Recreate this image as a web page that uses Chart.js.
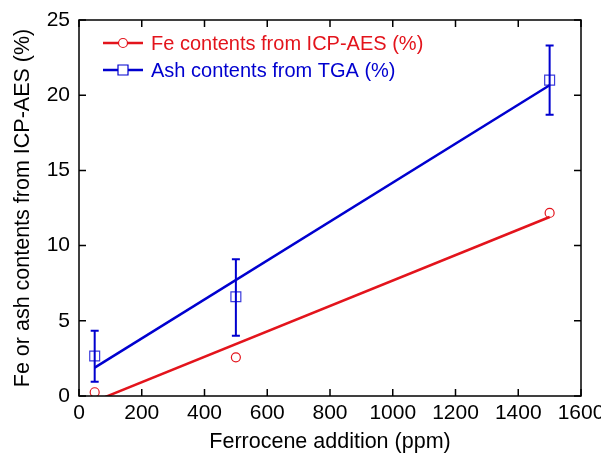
<!DOCTYPE html>
<html>
<head>
<meta charset="utf-8">
<script src="https://cdn.jsdelivr.net/npm/chart.js@4/dist/chart.umd.min.js"></script>
<style>
  html, body { margin: 0; padding: 0; background: #fff; }
  #wrap { width: 601px; height: 455px; }
</style>
</head>
<body>
<div id="wrap"><canvas id="myChart"></canvas></div>
<script>
// values
const doses = [50, 500, 1500];
const feValues = [0.25, 2.57, 12.17];
const ashValues = [2.66, 6.6, 21.0];
const ashLow = [0.95, 4.0, 18.7];
const ashHigh = [4.34, 9.1, 23.3];
// fitted lines, end points
const fitX = [50, 1500];
const feFit = [-0.35, 11.9];
const ashFit = [1.89, 20.66];
// axes
const xTicks = [0, 200, 400, 600, 800, 1000, 1200, 1400, 1600];
const yTicks = [0, 5, 10, 15, 20, 25];

const RED = "#e3141c";
const BLUE = "#0000cf";
const FONT = "'Liberation Sans', Arial, sans-serif";

const toPoints = (xs, ys) => xs.map((x, i) => ({ x: x, y: ys[i] }));

// box round the plot and ticks pointing inward
const frame = {
	id: "frame",
	afterDraw(chart) {
		const { ctx, chartArea: a, scales } = chart;
		const len = 7;
		ctx.save();
		ctx.strokeStyle = "#000";
		ctx.lineWidth = 1.5;
		ctx.strokeRect(a.left, a.top, a.right - a.left, a.bottom - a.top);
		ctx.beginPath();
		xTicks.forEach((v) => {
			const px = scales.x.getPixelForValue(v);
			ctx.moveTo(px, a.bottom);
			ctx.lineTo(px, a.bottom - len);
			ctx.moveTo(px, a.top);
			ctx.lineTo(px, a.top + len);
		});
		yTicks.forEach((v) => {
			const py = scales.y.getPixelForValue(v);
			ctx.moveTo(a.left, py);
			ctx.lineTo(a.left + len, py);
			ctx.moveTo(a.right, py);
			ctx.lineTo(a.right - len, py);
		});
		ctx.stroke();
		ctx.restore();
	},
};

const errorBars = {
	id: "errorBars",
	afterDatasetsDraw(chart) {
		const { ctx, scales } = chart;
		ctx.save();
		ctx.strokeStyle = BLUE;
		ctx.lineWidth = 2;
		doses.forEach((d, i) => {
			const px = scales.x.getPixelForValue(d);
			const lo = scales.y.getPixelForValue(ashLow[i]);
			const hi = scales.y.getPixelForValue(ashHigh[i]);
			ctx.beginPath();
			ctx.moveTo(px, lo);
			ctx.lineTo(px, hi);
			ctx.moveTo(px - 4, lo);
			ctx.lineTo(px + 4, lo);
			ctx.moveTo(px - 4, hi);
			ctx.lineTo(px + 4, hi);
			ctx.stroke();
		});
		ctx.restore();
	},
};

const legendBox = {
	id: "legendBox",
	afterDraw(chart) {
		const { ctx, chartArea: a } = chart;
		const items = [
			{ text: "Fe contents from ICP-AES (%)", color: RED, style: "circle" },
			{ text: "Ash contents from TGA (%)", color: BLUE, style: "rect" },
		];
		ctx.save();
		ctx.font = "20px " + FONT;
		ctx.textBaseline = "middle";
		items.forEach((it, i) => {
			const y = a.top + 23 + i * 27;
			const x0 = a.left + 24;
			ctx.strokeStyle = it.color;
			ctx.lineWidth = 2.5;
			ctx.beginPath();
			ctx.moveTo(x0, y);
			ctx.lineTo(x0 + 40, y);
			ctx.stroke();
			ctx.lineWidth = 1.2;
			ctx.fillStyle = "#fff";
			ctx.beginPath();
			if (it.style === "circle") {
				ctx.arc(x0 + 20, y, 4.5, 0, Math.PI * 2);
			} else {
				ctx.rect(x0 + 15, y - 5, 10, 10);
			}
			ctx.fill();
			ctx.stroke();
			ctx.fillStyle = it.color;
			ctx.fillText(it.text, x0 + 48, y + 1);
		});
		ctx.restore();
	},
};

const ctx = document.getElementById("myChart").getContext("2d");

new Chart(ctx, {
	type: "scatter",
	data: {
		datasets: [
			{
				label: "Ash fit",
				data: toPoints(fitX, ashFit),
				showLine: true,
				borderColor: BLUE,
				borderWidth: 2.5,
				pointRadius: 0,
				clip: 0,
			},
			{
				label: "Fe fit",
				data: toPoints(fitX, feFit),
				showLine: true,
				borderColor: RED,
				borderWidth: 2.5,
				pointRadius: 0,
				clip: 0,
			},
			{
				label: "Ash contents from TGA (%)",
				data: toPoints(doses, ashValues),
				pointStyle: "rect",
				pointRadius: 7,
				borderColor: "#3b3bdc",
				borderWidth: 1.2,
				backgroundColor: "rgba(0,0,0,0)",
			},
			{
				label: "Fe contents from ICP-AES (%)",
				data: toPoints(doses, feValues),
				pointStyle: "circle",
				pointRadius: 4.5,
				borderColor: RED,
				borderWidth: 1.2,
				backgroundColor: "rgba(0,0,0,0)",
			},
		],
	},
	options: {
		responsive: true,
		maintainAspectRatio: false,
		animation: false,
		events: [],
		layout: { padding: { top: 20, right: 20, left: 0, bottom: 0 } },
		plugins: {
			legend: { display: false },
			tooltip: { enabled: false },
		},
		scales: {
			x: {
				type: "linear",
				min: 0,
				max: 1600,
				grid: { display: false, drawTicks: false },
				border: { display: false },
				afterBuildTicks: (scale) => {
					scale.ticks = xTicks.map((v) => ({ value: v }));
				},
				ticks: {
					color: "#000",
					padding: 5,
					maxRotation: 0,
					font: { family: FONT, size: 21 },
					callback: (v) => String(v),
				},
				title: {
					display: true,
					text: "Ferrocene addition (ppm)",
					color: "#000",
					padding: { top: 0, bottom: 0 },
					font: { family: FONT, size: 21.5 },
				},
				afterFit: (scale) => {
					scale.height = 59;
					scale.paddingLeft = 0;
					scale.paddingRight = 0;
				},
			},
			y: {
				type: "linear",
				min: 0,
				max: 25,
				grid: { display: false, drawTicks: false },
				border: { display: false },
				afterBuildTicks: (scale) => {
					scale.ticks = yTicks.map((v) => ({ value: v }));
				},
				ticks: {
					color: "#000",
					padding: 9,
					font: { family: FONT, size: 21 },
					callback: (v) => String(v),
				},
				title: {
					display: true,
					text: "Fe or ash contents from ICP-AES (%)",
					color: "#000",
					padding: { top: 10, bottom: 0 },
					font: { family: FONT, size: 21.5 },
				},
				afterFit: (scale) => {
					scale.width = 79;
					scale.paddingTop = 0;
					scale.paddingBottom = 0;
				},
			},
		},
	},
	plugins: [errorBars, frame, legendBox],
});
</script>
</body>
</html>
